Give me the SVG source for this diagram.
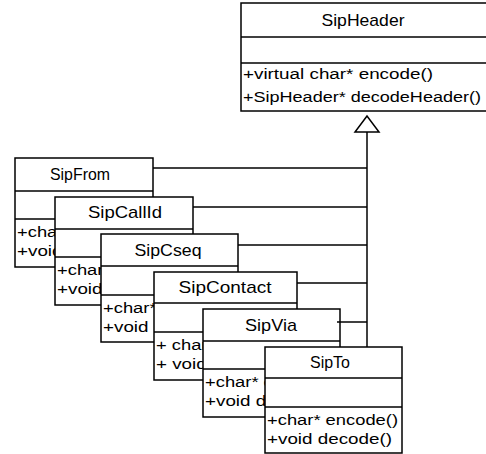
<svg xmlns="http://www.w3.org/2000/svg" width="486" height="454" viewBox="0 0 486 454">
<style>
.box{fill:#fff;stroke:#000;stroke-width:1.5}
.ln{stroke:#000;stroke-width:1.5;fill:none}
.t{font-family:"Liberation Sans",Arial,sans-serif;font-size:17px;text-anchor:middle;fill:#000}
.m{font-family:"Liberation Sans",Arial,sans-serif;font-size:15.5px;fill:#000}
</style>
<rect width="486" height="454" fill="#fff"/>
<g id="SipHeader">
<rect class="box" x="241" y="3" width="250" height="108"/>
<line class="ln" x1="241" y1="37" x2="486" y2="37"/>
<line class="ln" x1="241" y1="63" x2="486" y2="63"/>
<text class="t" x="363" y="26" textLength="83" lengthAdjust="spacingAndGlyphs">SipHeader</text>
<text class="m" x="243" y="79" textLength="190" lengthAdjust="spacingAndGlyphs">+virtual char* encode()</text>
<text class="m" x="243" y="102" textLength="238" lengthAdjust="spacingAndGlyphs">+SipHeader* decodeHeader()</text>
</g>
<g id="SipFrom">
<rect class="box" x="15" y="158" width="138" height="109"/>
<line class="ln" x1="15" y1="191" x2="153" y2="191"/>
<line class="ln" x1="15" y1="219" x2="153" y2="219"/>
<text class="t" x="80" y="180" textLength="60" lengthAdjust="spacingAndGlyphs">SipFrom</text>
<text class="m" x="17" y="237" textLength="131" lengthAdjust="spacingAndGlyphs">+char* encode()</text>
<text class="m" x="17" y="256" textLength="125" lengthAdjust="spacingAndGlyphs">+void decode()</text>
</g>
<g id="SipCallId">
<rect class="box" x="55" y="197" width="138" height="108"/>
<line class="ln" x1="55" y1="229" x2="193" y2="229"/>
<line class="ln" x1="55" y1="257" x2="193" y2="257"/>
<text class="t" x="125" y="218" textLength="74" lengthAdjust="spacingAndGlyphs">SipCallId</text>
<text class="m" x="57" y="275" textLength="131" lengthAdjust="spacingAndGlyphs">+char* encode()</text>
<text class="m" x="57" y="294" textLength="125" lengthAdjust="spacingAndGlyphs">+void decode()</text>
</g>
<g id="SipCseq">
<rect class="box" x="101" y="234" width="137" height="108"/>
<line class="ln" x1="101" y1="266" x2="238" y2="266"/>
<line class="ln" x1="101" y1="295" x2="238" y2="295"/>
<text class="t" x="168" y="256" textLength="67" lengthAdjust="spacingAndGlyphs">SipCseq</text>
<text class="m" x="103" y="313" textLength="131" lengthAdjust="spacingAndGlyphs">+char* encode()</text>
<text class="m" x="103" y="332" textLength="125" lengthAdjust="spacingAndGlyphs">+void decode()</text>
</g>
<g id="SipContact">
<rect class="box" x="154" y="272" width="143" height="108"/>
<line class="ln" x1="154" y1="303" x2="297" y2="303"/>
<line class="ln" x1="154" y1="332" x2="297" y2="332"/>
<text class="t" x="225" y="293" textLength="93" lengthAdjust="spacingAndGlyphs">SipContact</text>
<text class="m" x="156" y="350" textLength="136" lengthAdjust="spacingAndGlyphs">+ char* encode()</text>
<text class="m" x="156" y="369" textLength="130" lengthAdjust="spacingAndGlyphs">+ void decode()</text>
</g>
<g id="SipVia">
<rect class="box" x="203" y="309" width="137" height="108"/>
<line class="ln" x1="203" y1="341" x2="340" y2="341"/>
<line class="ln" x1="203" y1="369" x2="340" y2="369"/>
<text class="t" x="271" y="331" textLength="52" lengthAdjust="spacingAndGlyphs">SipVia</text>
<text class="m" x="205" y="387" textLength="131" lengthAdjust="spacingAndGlyphs">+char* encode()</text>
<text class="m" x="205" y="406" textLength="125" lengthAdjust="spacingAndGlyphs">+void decode()</text>
</g>
<g id="SipTo">
<rect class="box" x="265" y="347" width="137" height="106"/>
<line class="ln" x1="265" y1="378" x2="402" y2="378"/>
<line class="ln" x1="265" y1="407" x2="402" y2="407"/>
<text class="t" x="330" y="368" textLength="40" lengthAdjust="spacingAndGlyphs">SipTo</text>
<text class="m" x="267" y="425" textLength="131" lengthAdjust="spacingAndGlyphs">+char* encode()</text>
<text class="m" x="267" y="444" textLength="125" lengthAdjust="spacingAndGlyphs">+void decode()</text>
</g>
<g id="connectors">
<polygon class="ln" points="367,116 355,132 379,132" fill="#fff"/>
<line class="ln" x1="367" y1="132" x2="367" y2="347"/>
<line class="ln" x1="153" y1="168" x2="367" y2="168"/>
<line class="ln" x1="193" y1="207" x2="367" y2="207"/>
<line class="ln" x1="238" y1="245" x2="367" y2="245"/>
<line class="ln" x1="297" y1="283" x2="367" y2="283"/>
<line class="ln" x1="337" y1="322" x2="367" y2="322"/>
</g>
</svg>
